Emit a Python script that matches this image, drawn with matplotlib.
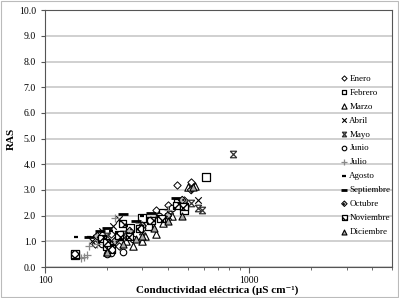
import matplotlib
matplotlib.use("Agg")
import matplotlib.pyplot as plt
from matplotlib.path import Path
from matplotlib.patches import Rectangle

plt.rcParams['font.family'] = ['Liberation Serif', 'DejaVu Serif']

months = ['Enero', 'Febrero', 'Marzo', 'Abril', 'Mayo', 'Junio', 'Julio',
          'Agosto', 'Septiembre', 'Octubre', 'Noviembre', 'Diciembre']

# conductividad (uS/cm) and RAS per month
ce_enero = [175, 210, 250, 300, 350, 400, 444, 520, 480, 230]
ras_enero = [0.9, 1.3, 1.2, 1.6, 2.2, 2.4, 3.2, 3.3, 2.6, 0.8]
ce_febrero = [140, 205, 260, 320, 380, 450, 480, 615, 230, 300]
ras_febrero = [0.45, 0.75, 1.5, 1.6, 2.1, 2.5, 2.2, 3.5, 1.2, 1.9]
ce_marzo = [200, 270, 300, 310, 380, 420, 500, 540, 250, 350]
ras_marzo = [0.6, 0.8, 1.0, 1.2, 1.7, 2.0, 3.1, 3.15, 1.0, 1.3]
ce_abril = [190, 215, 260, 330, 400, 480, 560, 170, 230]
ras_abril = [1.4, 1.6, 1.3, 1.8, 2.0, 2.4, 2.6, 1.0, 1.85]
ce_mayo = [835, 560, 590, 520, 410, 300, 240, 200]
ras_mayo = [4.4, 2.3, 2.2, 2.5, 2.2, 1.4, 1.3, 1.2]
ce_junio = [200, 210, 240, 300, 360, 420, 190, 270]
ras_junio = [0.5, 0.55, 0.6, 1.5, 2.0, 2.3, 0.9, 1.1]
ce_julio = [150, 155, 160, 165, 220, 180, 290, 400]
ras_julio = [0.35, 0.4, 0.45, 0.8, 1.9, 0.9, 1.7, 2.2]
ce_agosto = [142, 165, 175, 210, 250, 300]
ras_agosto = [1.15, 1.15, 1.2, 1.4, 1.6, 2.0]
ce_septiembre = [185, 200, 240, 280, 330, 440, 165]
ras_septiembre = [1.4, 1.5, 2.05, 1.8, 2.1, 2.7, 1.15]
ce_octubre = [180, 220, 260, 330, 400, 470, 520, 300]
ras_octubre = [1.2, 1.0, 1.4, 1.8, 2.0, 2.6, 3.0, 1.6]
ce_noviembre = [140, 190, 200, 210, 230, 260, 290, 330, 370, 440, 480, 240, 200]
ras_noviembre = [0.5, 1.1, 0.8, 0.7, 1.25, 1.2, 1.5, 1.8, 1.9, 2.4, 2.35, 1.7, 0.95]
ce_diciembre = [200, 240, 280, 340, 400, 470, 530, 300]
ras_diciembre = [0.6, 0.9, 1.1, 1.5, 1.8, 2.0, 3.1, 1.2]

series = [(ce_enero, ras_enero), (ce_febrero, ras_febrero), (ce_marzo, ras_marzo),
          (ce_abril, ras_abril), (ce_mayo, ras_mayo), (ce_junio, ras_junio),
          (ce_julio, ras_julio), (ce_agosto, ras_agosto),
          (ce_septiembre, ras_septiembre), (ce_octubre, ras_octubre),
          (ce_noviembre, ras_noviembre), (ce_diciembre, ras_diciembre)]

# X with bars on top and bottom
M, L = Path.MOVETO, Path.LINETO
hourglass = Path([(-1, -1), (1, 1), (-1, 1), (1, -1), (-1, 1), (1, 1), (-1, -1), (1, -1)],
                 [M, L, M, L, M, L, M, L])

styles = [
    dict(marker='D', s=14, facecolors='white', edgecolors='black', linewidths=0.7),
    dict(marker='s', s=26, facecolors='white', edgecolors='black', linewidths=0.9),
    dict(marker='^', s=28, facecolors='white', edgecolors='black', linewidths=0.8),
    dict(marker='x', s=22, c='black', linewidths=0.8),
    dict(marker=hourglass, s=22, c='#333333', linewidths=0.9),
    dict(marker='o', s=22, facecolors='white', edgecolors='black', linewidths=0.8),
    dict(marker='+', s=30, c='#888888', linewidths=0.9),
    dict(marker='_', s=12, c='black', linewidths=1.6),
    dict(marker='_', s=45, c='black', linewidths=2.0),
    dict(marker='D', s=16, facecolors='#bbbbbb', edgecolors='black', linewidths=0.7, hatch='....'),
    dict(marker='s', s=28, facecolors='white', edgecolors='black', linewidths=0.9, hatch='xxxx'),
    dict(marker='^', s=26, facecolors='#aaaaaa', edgecolors='black', linewidths=0.8),
]

fig = plt.figure(figsize=(3.99, 2.98), dpi=100)
ax = fig.add_axes([0.113, 0.104, 0.869, 0.862])

for name, (x, y), st in zip(months, series, styles):
    ax.scatter(x, y, label=name, zorder=3, **st)

ax.set_xscale('log')
ax.set_xlim(100, 5000)
ax.set_ylim(0, 10)
ax.set_yticks(range(0, 11))
ax.set_yticklabels(['%.1f' % v for v in range(0, 11)])
ax.set_xticks([100, 1000])
ax.set_xticklabels(['100', '1000'])
ax.xaxis.set_minor_formatter(plt.NullFormatter())
ax.grid(axis='y', color='#c8c8c8', linewidth=1.2, zorder=0)
ax.set_axisbelow(True)
ax.tick_params(axis='both', which='both', direction='out', labelsize=7, color='#555555')
ax.tick_params(axis='x', which='major', length=4, pad=2.5)
ax.tick_params(axis='x', which='minor', length=2.5)
ax.tick_params(axis='y', length=3)
for sp in ax.spines.values():
    sp.set_color('#555555')
    sp.set_linewidth(0.8)

ax.set_ylabel('RAS', fontsize=8, fontweight='bold', labelpad=2)
fig.text(0.545, 0.025, 'Conductividad eléctrica (µS cm\u207b\u00b9)', fontsize=8,
         fontweight='bold', ha='center', va='center')

fig.legend(loc='upper left', bbox_to_anchor=(0.845, 0.765), frameon=False,
           fontsize=6.5, handlelength=0.6, handletextpad=0.25, labelspacing=0.62,
           borderpad=0, markerscale=0.7)

fig.patches.append(Rectangle((0.002, 0.003), 0.995, 0.994, transform=fig.transFigure,
                             fill=False, edgecolor='#bbbbbb', linewidth=0.8))

fig.savefig('out.png', dpi=100)
